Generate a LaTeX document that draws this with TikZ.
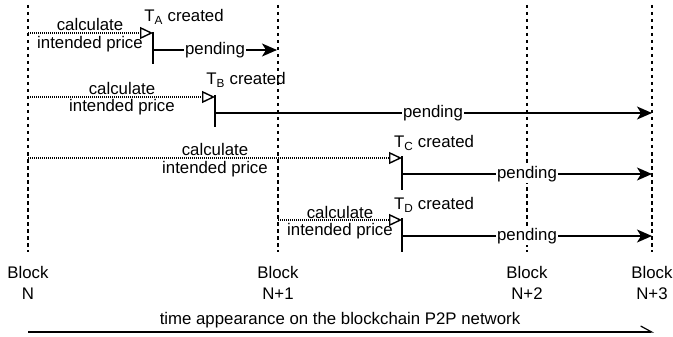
\documentclass[tikz,border=0pt]{standalone}
\usepackage{fontspec}
\setmainfont{Liberation Sans}
\usetikzlibrary{arrows.meta}
\begin{document}
\begin{tikzpicture}[x=1pt,y=-1pt,
  txt/.style={font=\fontsize{16.8}{19}\selectfont, inner sep=0pt},
  blockline/.style={line width=1.3pt, dash pattern=on 3.5pt off 3.5pt},
  calcarrow/.style={line width=1.1pt, dash pattern=on 1pt off 1pt, -{Triangle[open,length=13pt,width=12pt,line width=1.4pt]}},
  pendarrow/.style={line width=1.4pt, -{Stealth[length=15pt,width=13pt,inset=4pt]}},
  tick/.style={line width=2pt},
  pendlbl/.style={txt, fill=white, inner xsep=1pt, inner ysep=1pt},
]
\useasboundingbox (0,0) rectangle (673,337);

% block dashed lines
\foreach \n/\x in {b0/28, b1/278, b2/527, b3/652} {
  \coordinate (\n top) at (\x,5);
  \coordinate (\n bot) at (\x,252);
  \draw[blockline] (\n top) -- (\n bot);
}

% ---- Row A ----
\coordinate (aS) at (28,33);
\coordinate (aT1) at (153,32);
\coordinate (aT2) at (153,64);
\coordinate (aC) at (153,33);
\coordinate (aP) at (153,50);
\coordinate (aE) at (277,50);
\draw[calcarrow] (aS) -- (aC);
\draw[tick] (aT1) -- (aT2);
\draw[pendarrow] (aP) -- (aE);
\node[pendlbl] (apend) at (215,50) {pending};
\node[txt] (acalc) at (90,24) {calculate};
\node[txt] (aint) at (90,44) {intended price};
\node[txt] (acr) at (184,17) {T\textsubscript{A} created};

% ---- Row B ----
\coordinate (bS) at (28,97);
\coordinate (bT1) at (215,95);
\coordinate (bT2) at (215,127);
\coordinate (bC) at (215,97);
\coordinate (bP) at (215,113);
\coordinate (bE) at (652,113);
\draw[calcarrow] (bS) -- (bC);
\draw[tick] (bT1) -- (bT2);
\draw[pendarrow] (bP) -- (bE);
\node[pendlbl] (bpend) at (433,113) {pending};
\node[txt] (bcalc) at (122,88) {calculate};
\node[txt] (bint) at (122,107) {intended price};
\node[txt] (bcr) at (246,80) {T\textsubscript{B} created};

% ---- Row C ----
\coordinate (cS) at (28,158);
\coordinate (cT1) at (402,156);
\coordinate (cT2) at (402,190);
\coordinate (cC) at (402,158);
\coordinate (cP) at (402,174);
\coordinate (cE) at (652,174);
\draw[calcarrow] (cS) -- (cC);
\draw[tick] (cT1) -- (cT2);
\draw[pendarrow] (cP) -- (cE);
\node[pendlbl] (cpend) at (527,174) {pending};
\node[txt] (ccalc) at (215,149) {calculate};
\node[txt] (cint) at (215,169) {intended price};
\node[txt] (ccr) at (434,143) {T\textsubscript{C} created};

% ---- Row D ----
\coordinate (dS) at (278,220);
\coordinate (dT1) at (402,218);
\coordinate (dT2) at (402,252);
\coordinate (dC) at (402,220);
\coordinate (dP) at (402,236);
\coordinate (dE) at (652,236);
\draw[calcarrow] (dS) -- (dC);
\draw[tick] (dT1) -- (dT2);
\draw[pendarrow] (dP) -- (dE);
\node[pendlbl] (dpend) at (527,236) {pending};
\node[txt] (dcalc) at (340,212) {calculate};
\node[txt] (dint) at (340,231) {intended price};
\node[txt] (dcr) at (434,205) {T\textsubscript{D} created};

% block labels
\node[txt, align=center, font=\fontsize{16.8}{21}\selectfont] (lN) at (28,283) {Block\\N};
\node[txt, align=center, font=\fontsize{16.8}{21}\selectfont] (lN1) at (278,283) {Block\\N+1};
\node[txt, align=center, font=\fontsize{16.8}{21}\selectfont] (lN2) at (527,283) {Block\\N+2};
\node[txt, align=center, font=\fontsize{16.8}{21}\selectfont] (lN3) at (652,283) {Block\\N+3};

% time axis
\node[txt] (tlabel) at (340,320) {time appearance on the blockchain P2P network};
\coordinate (tS) at (28,332);
\coordinate (tE) at (654,332);
\draw[line width=1.2pt, -{Straight Barb[left,length=11pt,width=12pt,line width=1.2pt]}] (tS) -- (tE);
\end{tikzpicture}
\end{document}
